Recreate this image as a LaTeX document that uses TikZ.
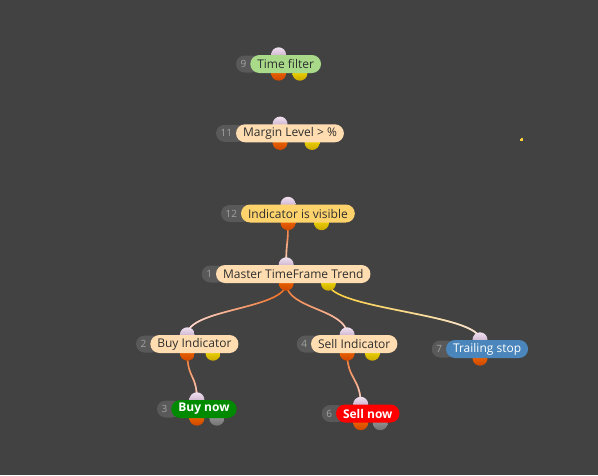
\documentclass[tikz,border=0pt]{standalone}
\usepackage{fontspec}
\setmainfont{Open Sans}
\usetikzlibrary{positioning,calc,fadings}
\definecolor{canvas}{HTML}{424242}
\definecolor{numbg}{HTML}{595959}
\definecolor{numfg}{HTML}{A3A3A3}
\definecolor{peach}{HTML}{FFDDB0}
\definecolor{amber}{HTML}{FFD36C}
\definecolor{leaf}{HTML}{A8DA8A}
\definecolor{buygreen}{HTML}{008A00}
\definecolor{sellred}{HTML}{FF0000}
\definecolor{trailblue}{HTML}{4A86BC}
\definecolor{inktext}{HTML}{2E2E2E}
\definecolor{wireorange}{HTML}{F26B1D}
\definecolor{wireyellow}{HTML}{FFD23A}
\definecolor{wirelight}{HTML}{F4E2E6}
\pgfdeclarelayer{wires}
\pgfdeclarelayer{ports}
\pgfsetlayers{wires,ports,main}
\tikzfading[name=fadedown, top color=transparent!100, middle color=transparent!72, bottom color=transparent!0]
\tikzfading[name=fadeleft, right color=transparent!100, middle color=transparent!75, left color=transparent!0]
\tikzfading[name=faderight, left color=transparent!100, middle color=transparent!85, right color=transparent!0]
% one block: name, x, y, number, text, pill style, second port style
\newcommand{\block}[7]{%
  \node[numtext, anchor=west] (#1n) at (#2,#3) {#4};
  \node[pill, #6, right=-1pt of #1n] (#1) {#5};
  \coordinate (#1c) at ($(#1n.west)!.5!(#1.east)$);
  \coordinate (#1q) at ($(#1n.west)!.75!(#1.east)$);
  \coordinate (#1in) at (#1c |- #1.north);
  \coordinate (#1out) at (#1c |- #1.south);
  \coordinate (#1aux) at (#1q |- #1.south);
  \begin{pgfonlayer}{ports}
    \fill[numbg, rounded corners=8.5pt] ($(#1n.west)+(0,-8.5)$) rectangle ($(#1.west)+(10,8.5)$);
    \path[portin] (#1in) circle (7.5pt);
    \path[portout] (#1out) circle (7.5pt);
    \ifx&#7&\else\path[#7] (#1aux) circle (7.5pt);\fi
  \end{pgfonlayer}}
% one connector: from, to, colour, fading
\newcommand{\wire}[4]{%
  \begin{pgfonlayer}{wires}
    \draw[wire, #3] (#1) .. controls +(0,26) and +(0,-26) .. (#2);
    \draw[wire, wirelight, path fading=#4] (#1) .. controls +(0,26) and +(0,-26) .. (#2);
  \end{pgfonlayer}}
\begin{document}
\begin{tikzpicture}[x=1pt, y=-1pt, line join=round, line cap=round,
    numtext/.style={inner xsep=4.5pt, inner ysep=0pt, text=numfg, font=\fontsize{10}{12}\selectfont},
    pill/.style={rounded corners=9pt, minimum height=18pt, inner xsep=7pt, inner ysep=0pt, text=inktext, font=\fontsize{12}{14}\selectfont},
    bold/.style={font=\fontsize{12}{14}\selectfont\bfseries, text=white},
    portin/.style={top color=white!88!violet, bottom color=white!62!violet!70!gray},
    portout/.style={top color=orange!90!red, bottom color=orange!70!red!80!black},
    portyel/.style={top color=yellow!85!orange, bottom color=yellow!65!orange!80!black},
    portgray/.style={top color=gray!70, bottom color=gray!90!black},
    wire/.style={line width=1.6pt}]
\begin{pgfonlayer}{wires}
  \fill[canvas] (0,0) rectangle (598,475);
\end{pgfonlayer}
\useasboundingbox (0,0) rectangle (598,475);
\block{time}{236}{64}{9}{Time filter}{fill=leaf}{portyel}
\block{margin}{216}{133.3}{11}{Margin Level > \%}{fill=peach}{portyel}
\block{visible}{221}{213.5}{12}{Indicator is visible}{fill=amber}{portyel}
\block{trend}{201.7}{274}{1}{Master TimeFrame Trend}{fill=peach}{portyel}
\block{buyind}{136}{344}{2}{Buy Indicator}{fill=peach}{portyel}
\block{sellind}{296.7}{344}{4}{Sell Indicator}{fill=peach}{portyel}
\block{trail}{431.7}{349}{7}{Trailing stop}{fill=trailblue, text=white}{}
\block{buy}{157}{409}{3}{Buy now}{fill=buygreen, bold}{portgray}
\block{sell}{321.7}{413.5}{6}{Sell now}{fill=sellred, bold}{portgray}
\wire{visibleout}{trendin}{wireorange}{fadedown}
\wire{trendout}{buyindin}{wireorange}{fadeleft}
\wire{trendout}{sellindin}{wireorange}{fadedown}
\wire{trendaux}{trailin}{wireyellow}{faderight}
\wire{buyindout}{buyin}{wireorange}{fadedown}
\wire{sellindout}{sellin}{wireorange}{fadedown}
\fill[wireyellow] (521,137.5) rectangle (523,140.5);
\fill[wireyellow] (519.5,139) rectangle (523,140.5);
\end{tikzpicture}
\end{document}
